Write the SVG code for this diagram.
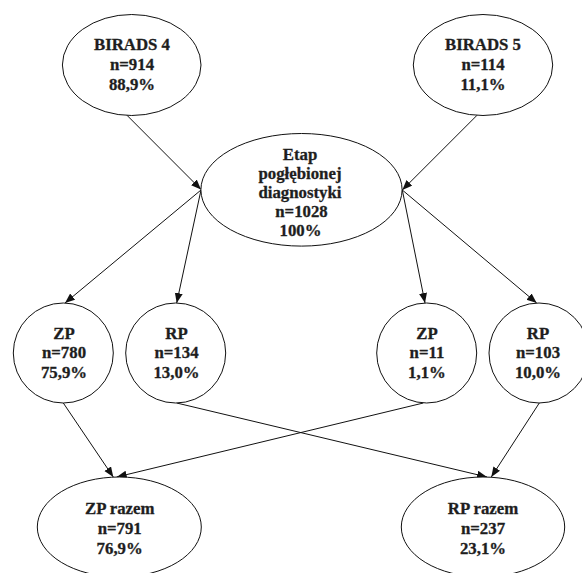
<svg xmlns="http://www.w3.org/2000/svg" width="582" height="573" viewBox="0 0 582 573">
<style>
.n{fill:#fff;stroke:#111;stroke-width:1}
.t{font-family:"Liberation Serif","Times New Roman",serif;font-weight:bold;font-size:16.8px;fill:#1e1e1e;stroke:#1e1e1e;stroke-width:0.3;text-anchor:middle}
.c{stroke:#111;stroke-width:1;fill:none;marker-end:url(#ah)}
</style>
<defs>
<marker id="ah" markerUnits="userSpaceOnUse" markerWidth="11" markerHeight="9" refX="10" refY="4" orient="auto">
<path d="M0,0 L10,4 L0,8 z" fill="#111"/>
</marker>
</defs>
<rect width="582" height="573" fill="#fff"/>
<g id="connectors">
<line class="c" x1="126.7" y1="115" x2="201" y2="189.5"/>
<line class="c" x1="477.3" y1="115" x2="402.3" y2="190"/>
<line class="c" x1="201" y1="190" x2="65" y2="303"/>
<line class="c" x1="201" y1="190" x2="176.7" y2="303"/>
<line class="c" x1="402.3" y1="190" x2="425" y2="303"/>
<line class="c" x1="402.3" y1="190" x2="536.7" y2="303"/>
<line class="c" x1="63.3" y1="403" x2="113.3" y2="477"/>
<line class="c" x1="423.3" y1="403" x2="116.7" y2="477"/>
<line class="c" x1="176.7" y1="403" x2="487" y2="477"/>
<line class="c" x1="539.3" y1="403" x2="491.3" y2="477"/>
</g>
<g id="birads4">
<ellipse class="n" cx="131.7" cy="65" rx="69.3" ry="50.5"/>
<text class="t" x="132" y="50">BIRADS 4</text>
<text class="t" x="132" y="69.5">n=914</text>
<text class="t" x="132" y="89.5">88,9%</text>
</g>
<g id="birads5">
<ellipse class="n" cx="483" cy="65" rx="69.7" ry="50.5"/>
<text class="t" x="483" y="50">BIRADS 5</text>
<text class="t" x="483" y="69.5">n=114</text>
<text class="t" x="483" y="89.5">11,1%</text>
</g>
<g id="etap">
<ellipse class="n" cx="301.5" cy="189.8" rx="100.6" ry="56.3"/>
<text class="t" x="300" y="159.5">Etap</text>
<text class="t" x="300" y="178.5">pogłębionej</text>
<text class="t" x="300" y="197.5">diagnostyki</text>
<text class="t" x="301.5" y="216.5">n=1028</text>
<text class="t" x="300.5" y="236">100%</text>
</g>
<g id="zp1">
<circle class="n" cx="63.3" cy="353" r="50"/>
<text class="t" x="64" y="338.5">ZP</text>
<text class="t" x="64" y="358.3">n=780</text>
<text class="t" x="64" y="378">75,9%</text>
</g>
<g id="rp1">
<circle class="n" cx="175.7" cy="353" r="50"/>
<text class="t" x="176.5" y="338.5">RP</text>
<text class="t" x="176.5" y="358.3">n=134</text>
<text class="t" x="176.5" y="378">13,0%</text>
</g>
<g id="zp2">
<circle class="n" cx="426.7" cy="353" r="50"/>
<text class="t" x="427" y="338.5">ZP</text>
<text class="t" x="427" y="358.3">n=11</text>
<text class="t" x="427" y="378">1,1%</text>
</g>
<g id="rp2">
<circle class="n" cx="539" cy="353" r="50"/>
<text class="t" x="538" y="338.5">RP</text>
<text class="t" x="538" y="358.3">n=103</text>
<text class="t" x="538" y="378">10,0%</text>
</g>
<g id="zp-razem">
<ellipse class="n" cx="119.3" cy="527" rx="82" ry="50"/>
<text class="t" x="119.7" y="514">ZP razem</text>
<text class="t" x="119.7" y="534">n=791</text>
<text class="t" x="119.7" y="553.5">76,9%</text>
</g>
<g id="rp-razem">
<ellipse class="n" cx="483" cy="527" rx="81.7" ry="50"/>
<text class="t" x="483" y="514">RP razem</text>
<text class="t" x="483" y="534">n=237</text>
<text class="t" x="483" y="553.5">23,1%</text>
</g>
</svg>
